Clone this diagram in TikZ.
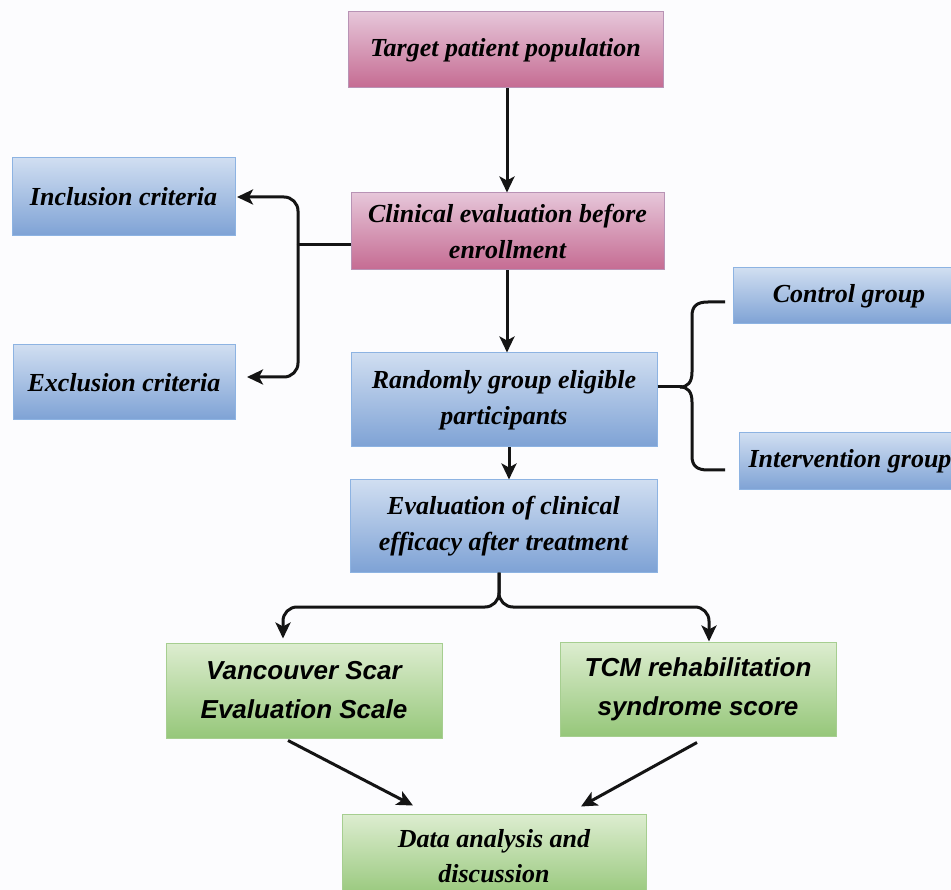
\documentclass[tikz,border=0pt]{standalone}
\usepackage{fontspec}
\setmainfont{Liberation Serif}
\setsansfont{Liberation Sans}
\usetikzlibrary{arrows.meta}
\definecolor{pinkT}{HTML}{E6C6D9}
\definecolor{pinkB}{HTML}{C56B92}
\definecolor{pinkD}{HTML}{B893B5}
\definecolor{blueT}{HTML}{D0DEF1}
\definecolor{blueB}{HTML}{7EA2D5}
\definecolor{blueD}{HTML}{8DB3E2}
\definecolor{greenT}{HTML}{DDEDD0}
\definecolor{greenB}{HTML}{96C77A}
\definecolor{greenD}{HTML}{A6CE90}
\definecolor{bg}{HTML}{FCFCFE}
\begin{document}
\begin{tikzpicture}[x=1pt,y=-1pt,
  box/.style={draw, line width=1pt, inner sep=0pt, align=center,
    font=\fontsize{26}{36}\selectfont\bfseries\itshape},
  pinkbox/.style={box, draw=pinkD, top color=pinkT, bottom color=pinkB},
  bluebox/.style={box, draw=blueD, top color=blueT, bottom color=blueB},
  greenbox/.style={box, draw=greenD, top color=greenT, bottom color=greenB},
  sansbox/.style={greenbox, font=\fontsize{26}{39}\selectfont\sffamily\bfseries\itshape},
  conn/.style={line width=3pt, black!92},
  arr/.style={conn, -{Stealth[length=16pt,width=15pt,inset=4pt]}}]
\useasboundingbox (0,0) rectangle (951,890);
\clip (0,0) rectangle (951,890);
\fill[bg] (0,0) rectangle (951,890);

\node[pinkbox, minimum width=315, minimum height=76] (target) at (505.5,50) {Target patient population};
\node[pinkbox, minimum width=313, minimum height=77] (clin) at (507.5,231.5) {Clinical evaluation before\\enrollment};
\node[bluebox, minimum width=223, minimum height=78] (incl) at (123.5,197) {Inclusion criteria};
\node[bluebox, minimum width=222, minimum height=75] (excl) at (124,382.5) {Exclusion criteria};
\node[bluebox, minimum width=306, minimum height=94] (rand) at (504,400) {Randomly group eligible\\participants};
\node[bluebox, minimum width=232, minimum height=56] (ctrl) at (849,296) {Control group};
\node[bluebox, minimum width=222, minimum height=57] (interv) at (850,461.5) {Intervention group};
\node[bluebox, minimum width=307, minimum height=92] (eval) at (503.5,526) {Evaluation of clinical\\efficacy after treatment};
\node[sansbox, minimum width=276, minimum height=95] (vanc) at (304,690.5) {Vancouver Scar\\Evaluation Scale};
\node[sansbox, minimum width=276, minimum height=94] (tcm) at (698,689) {TCM rehabilitation\\syndrome score};
\node[greenbox, minimum width=304, minimum height=84, font=\fontsize{26}{35}\selectfont\bfseries\itshape] (data) at (494,856) {Data analysis and\\discussion};

% coordinates
\coordinate (lj) at (298,245);
\coordinate (inclEnd) at (237,197);
\coordinate (exclEnd) at (247,377);
\coordinate (bmid) at (692,387);
\coordinate (ctrlEnd) at (725,302);
\coordinate (intEnd) at (725,470);
\coordinate (split) at (499,607);

% connectors
\draw[arr] (target.south -| 507,0) -- (clin.north -| 507,0);
\draw[conn] (clin.west |- lj) -- (lj);
\draw[arr, rounded corners=14pt] (lj) -- (lj |- inclEnd) -- (inclEnd);
\draw[arr, rounded corners=14pt] (lj) -- (lj |- exclEnd) -- (exclEnd);
\draw[arr] (clin.south -| 507,0) -- (rand.north -| 507,0);
% brace
\draw[conn] (rand.east |- bmid) -- (682,387);
\draw[conn] (ctrlEnd) -- (708,302) .. controls (697,302) and (692,306) .. (692,316) -- (692,372) .. controls (692,382) and (688,387) .. (680,387);
\draw[conn] (intEnd) -- (708,470) .. controls (697,470) and (692,466) .. (692,456) -- (692,402) .. controls (692,392) and (688,387) .. (680,387);
\draw[arr] (rand.south -| 509,0) -- (eval.north -| 509,0);
\draw[arr, rounded corners=14pt] (eval.south -| split) -- (split) -- (split -| 283,0) -- ([yshift=4pt]vanc.north -| 283,0);
\draw[arr, rounded corners=14pt] (eval.south -| split) -- (split) -- (split -| 709,0) -- (tcm.north -| 709,0);
\draw[arr] ([xshift=-16pt,yshift=-2pt]vanc.south) -- ([xshift=-81pt,yshift=8pt]data.north);
\draw[arr] ([xshift=-1pt,yshift=-6pt]tcm.south) -- ([xshift=87pt,yshift=7pt]data.north);
\end{tikzpicture}
\end{document}
